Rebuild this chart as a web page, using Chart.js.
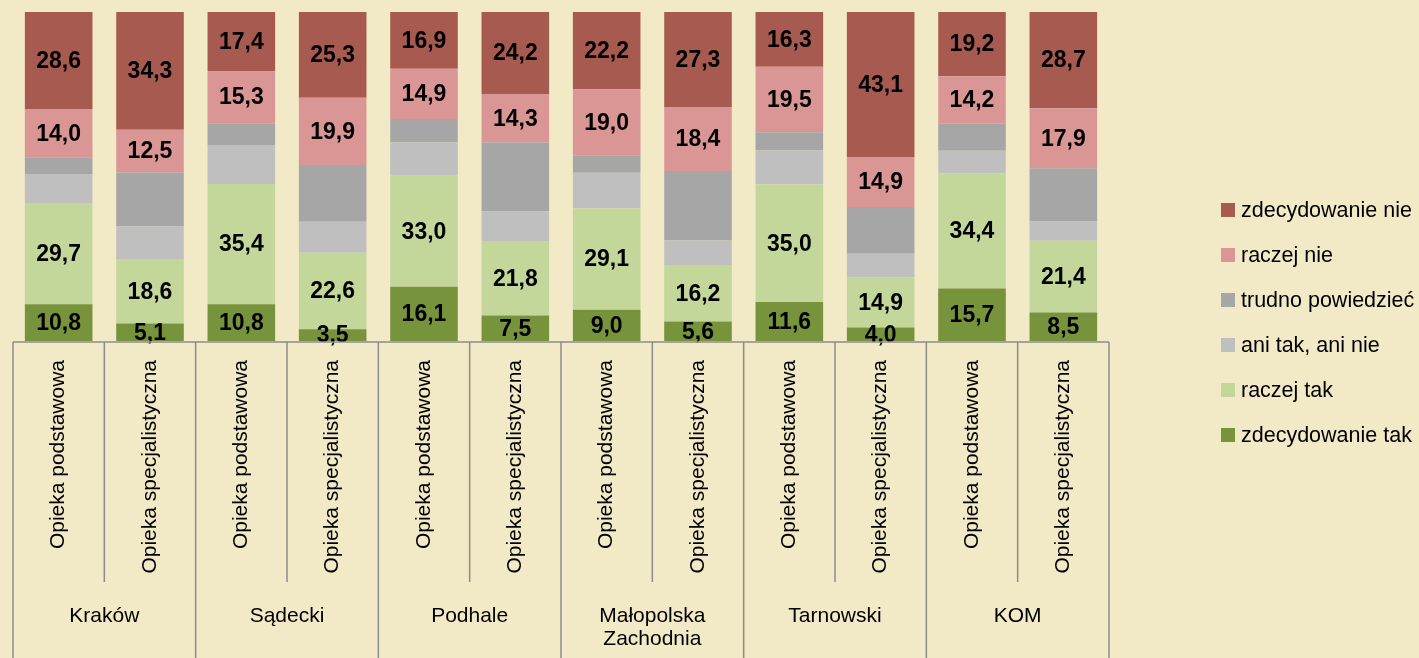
<!DOCTYPE html>
<html>
<head>
<meta charset="utf-8">
<script src="https://cdn.jsdelivr.net/npm/chart.js@4"></script>
<style>
  html, body { margin: 0; padding: 0; background: #F2E9C6; }
  #wrap { width: 1419px; height: 658px; position: relative; }
</style>
</head>
<body>
<div id="wrap"><canvas id="chart"></canvas></div>
<script>
// bars, left to right
const barLabels = ['Opieka podstawowa', 'Opieka specjalistyczna',
                   'Opieka podstawowa', 'Opieka specjalistyczna',
                   'Opieka podstawowa', 'Opieka specjalistyczna',
                   'Opieka podstawowa', 'Opieka specjalistyczna',
                   'Opieka podstawowa', 'Opieka specjalistyczna',
                   'Opieka podstawowa', 'Opieka specjalistyczna'];
const groupLabels = [['Kraków'], ['Sądecki'], ['Podhale'], ['Małopolska', 'Zachodnia'], ['Tarnowski'], ['KOM']];

// series values (%), bottom of the stack first
const zdecydowanieTak  = [10.8, 5.1, 10.8, 3.5, 16.1, 7.5, 9.0, 5.6, 11.6, 4.0, 15.7, 8.5];
const raczejTak        = [29.7, 18.6, 35.4, 22.6, 33.0, 21.8, 29.1, 16.2, 35.0, 14.9, 34.4, 21.4];
const aniTakAniNie     = [8.5, 9.7, 11.5, 9.1, 9.9, 8.9, 10.3, 7.1, 10.1, 7.0, 6.8, 5.7];
const trudnoPowiedziec = [4.9, 15.7, 6.4, 16.8, 7.0, 20.4, 5.0, 19.9, 5.4, 13.9, 8.1, 15.9];
const raczejNie        = [14.0, 12.5, 15.3, 19.9, 14.9, 14.3, 19.0, 18.4, 19.5, 14.9, 14.2, 17.9];
const zdecydowanieNie  = [28.6, 34.3, 17.4, 25.3, 16.9, 24.2, 22.2, 27.3, 16.3, 43.1, 19.2, 28.7];

const seriesNames  = ['zdecydowanie tak', 'raczej tak', 'ani tak, ani nie', 'trudno powiedzieć', 'raczej nie', 'zdecydowanie nie'];
const seriesValues = [zdecydowanieTak, raczejTak, aniTakAniNie, trudnoPowiedziec, raczejNie, zdecydowanieNie];
const seriesColors = ['#77933C', '#C4D79B', '#BFBFBF', '#A6A6A6', '#DA9694', '#A65A50'];
const labelled     = [true, true, false, false, true, true];

const FONT = "'Liberation Sans', Arial, sans-serif";
const NARROW = "'Liberation Sans Narrow', 'Arial Narrow', 'Liberation Sans', sans-serif";

// 100% stacked: each bar scaled by its own total
const totals = barLabels.map((_, i) => seriesValues.reduce((s, arr) => s + arr[i], 0));

const datasets = seriesNames.map((name, k) => ({
    label: name,
    data: seriesValues[k].map((v, i) => v / totals[i] * 100),
    raw: seriesValues[k],
    backgroundColor: seriesColors[k],
    borderWidth: 0,
    barPercentage: 0.74,
    categoryPercentage: 1.0
}));

// value labels inside segments
const valueLabels = {
    id: 'valueLabels',
    afterDatasetsDraw(chart) {
        const ctx = chart.ctx;
        ctx.save();
        ctx.font = 'bold 23px ' + NARROW;
        ctx.fillStyle = '#000';
        ctx.textAlign = 'center';
        ctx.textBaseline = 'middle';
        chart.data.datasets.forEach((ds, k) => {
            if (!labelled[k]) return;
            chart.getDatasetMeta(k).data.forEach((bar, i) => {
                const yMid = (bar.y + bar.base) / 2;
                ctx.fillText(ds.raw[i].toFixed(1).replace('.', ','), bar.x, yMid + 1);
            });
        });
        ctx.restore();
    }
};

// two-level category axis drawn under the plot
const categoryAxis = {
    id: 'categoryAxis',
    afterDraw(chart) {
        const ctx = chart.ctx;
        const x = chart.scales.x;
        const area = chart.chartArea;
        const top = area.bottom + 1;
        const innerBottom = 582;
        const bottom = chart.height;
        const step = x.getPixelForValue(1) - x.getPixelForValue(0);
        const left = x.getPixelForValue(0) - step / 2;
        ctx.save();
        ctx.strokeStyle = '#8C8C8C';
        ctx.lineWidth = 1.5;
        ctx.beginPath();
        ctx.moveTo(left, top);
        ctx.lineTo(left + step * barLabels.length, top);
        for (let i = 0; i <= barLabels.length; i++) {
            const xx = left + step * i;
            ctx.moveTo(xx, top);
            ctx.lineTo(xx, i % 2 === 0 ? bottom : innerBottom);
        }
        ctx.stroke();

        ctx.fillStyle = '#000';
        ctx.font = '21px ' + FONT;
        ctx.textAlign = 'right';
        ctx.textBaseline = 'middle';
        barLabels.forEach((lbl, i) => {
            ctx.save();
            ctx.translate(x.getPixelForValue(i), 360);
            ctx.rotate(-Math.PI / 2);
            ctx.fillText(lbl, 0, 0);
            ctx.restore();
        });

        ctx.textAlign = 'center';
        groupLabels.forEach((lines, g) => {
            const cx = left + step * (2 * g + 1);
            lines.forEach((line, j) => ctx.fillText(line, cx, 616 + j * 23));
        });
        ctx.restore();
    }
};

// legend on the right, top item = top of the stack
const sideLegend = {
    id: 'sideLegend',
    afterDraw(chart) {
        const ctx = chart.ctx;
        ctx.save();
        ctx.font = '21.5px ' + FONT;
        ctx.textAlign = 'left';
        ctx.textBaseline = 'middle';
        for (let k = seriesNames.length - 1, row = 0; k >= 0; k--, row++) {
            const y = 210 + row * 45;
            ctx.fillStyle = seriesColors[k];
            ctx.fillRect(1221, y - 7, 14, 14);
            ctx.fillStyle = '#000';
            ctx.fillText(seriesNames[k], 1241, y + 1);
        }
        ctx.restore();
    }
};

new Chart(document.getElementById('chart'), {
    type: 'bar',
    data: { labels: barLabels, datasets: datasets },
    options: {
        responsive: true,
        maintainAspectRatio: false,
        animation: false,
        layout: { padding: { top: 12, bottom: 317, left: 13, right: 310 } },
        scales: {
            x: { stacked: true, display: false },
            y: { stacked: true, display: false, min: 0, max: 100 }
        },
        plugins: {
            legend: { display: false },
            tooltip: { enabled: false }
        }
    },
    plugins: [valueLabels, categoryAxis, sideLegend]
});
</script>
</body>
</html>
